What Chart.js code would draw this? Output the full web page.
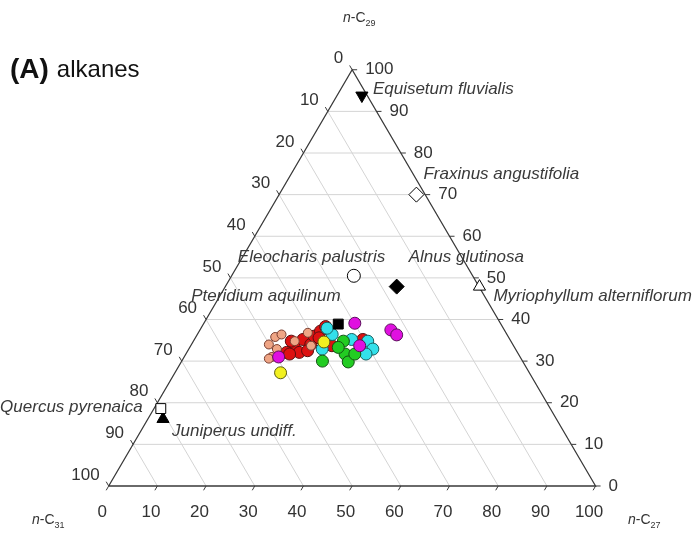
<!DOCTYPE html>
<html>
<head>
<meta charset="utf-8">
<script src="https://cdn.jsdelivr.net/npm/chart.js@4.4.1/dist/chart.umd.min.js"></script>
<style>
  body { margin: 0; background: #fff; }
  #wrap { width: 700px; height: 540px; position: relative; }
</style>
</head>
<body>
<div id="wrap"><canvas id="ternary"></canvas></div>
<script>
// tick values, same on all three sides (%)
const ticks = [0, 10, 20, 30, 40, 50, 60, 70, 80, 90, 100];

// reference plants: n-C27 and n-C29 share in %, n-C31 is the rest
const refNames = ['Equisetum fluvialis', 'Fraxinus angustifolia', 'Alnus glutinosa', 'Myriophyllum alterniflorum',
                  'Eleocharis palustris', 'Pteridium aquilinum', 'Quercus pyrenaica', 'Juniperus undiff.'];
const refC27 = [5.1, 28.2, 35.2, 52.2, 25.1, 27.7, 1.4, 3.1];
const refC29 = [93.8, 70.0, 47.9, 47.9, 50.5, 38.9, 18.6, 16.1];

// samples, one pair of arrays per colour group
const redC27 = [21.5, 22.3, 24.5, 24.2, 24.9, 20.5, 23.1, 20.1, 24.6, 25.4, 34.6, 21.3, 25.4, 29.0];
const redC29 = [33.3, 35.2, 34.0, 36.0, 37.2, 32.1, 32.1, 34.8, 32.5, 38.3, 35.2, 31.7, 35.6, 33.7];
const salmonC27 = [15.9, 18.0, 16.3, 17.3, 17.6, 18.1, 20.8, 24.7, 22.5];
const salmonC29 = [34.0, 31.0, 35.8, 36.4, 30.6, 32.9, 34.8, 33.7, 36.8];
const cyanC27 = [27.7, 25.9, 32.3, 35.8, 37.8, 37.0, 27.4];
const cyanC29 = [36.4, 37.9, 35.2, 34.8, 32.9, 31.7, 32.9];
const greenC27 = [28.9, 30.8, 32.7, 34.3, 34.7, 30.5];
const greenC29 = [30.0, 34.8, 31.7, 29.8, 31.7, 33.3];
const yellowC27 = [21.7, 26.9];
const yellowC29 = [27.2, 34.6];
const magentaC27 = [19.4, 31.0, 34.7, 39.2, 41.0];
const magentaC29 = [31.0, 39.1, 33.7, 37.5, 36.3];

const SQ = Math.sqrt(3) / 2;

// ternary -> cartesian (base 0..100 along x)
function tern(c27, c29) {
    return { x: c27 + c29 / 2, y: c29 * SQ };
}
function pts(c27s, c29s) {
    return c27s.map((v, i) => tern(v, c29s[i]));
}

// marker look of the reference plants
const refStyle = [
    { shape: 'triangle', fill: '#000', rot: 180, r: 7 },
    { shape: 'rectRot', fill: '#fff', rot: 0, r: 7.5 },
    { shape: 'rectRot', fill: '#000', rot: 0, r: 7.5 },
    { shape: 'triangle', fill: '#fff', rot: 0, r: 7 },
    { shape: 'circle', fill: '#fff', rot: 0, r: 6.5 },
    { shape: 'rect', fill: '#000', rot: 0, r: 7 },
    { shape: 'rect', fill: '#fff', rot: 0, r: 7 },
    { shape: 'triangle', fill: '#000', rot: 0, r: 7 }
];
// label offsets from the marker, px
const refLabel = [
    { dx: 11, dy: -6, align: 'left' },
    { dx: 7, dy: -20, align: 'left' },
    { dx: 12, dy: -29, align: 'left' },
    { dx: 14, dy: 10, align: 'left' },
    { dx: -116, dy: -19, align: 'left' },
    { dx: -147, dy: -28, align: 'left' },
    { dx: -18, dy: -1, align: 'right' },
    { dx: 9, dy: 12, align: 'left' }
];

let datasets = [];

// reference plants on top
refNames.forEach((name, i) => {
    let s = refStyle[i];
    datasets.push({
        label: name,
        data: [tern(refC27[i], refC29[i])],
        pointStyle: s.shape,
        pointRotation: s.rot,
        pointRadius: s.r,
        backgroundColor: s.fill,
        borderColor: '#000',
        borderWidth: 1
    });
});

function group(label, c27, c29, fill, edge, r) {
    return {
        label: label,
        data: pts(c27, c29),
        pointRadius: r,
        backgroundColor: fill,
        borderColor: edge,
        borderWidth: 1
    };
}
datasets.push(group('magenta', magentaC27, magentaC29, '#e010e0', '#5a105a', 6));
datasets.push(group('yellow', yellowC27, yellowC29, '#f2f020', '#5a5a10', 6));
datasets.push(group('green', greenC27, greenC29, '#22cc22', '#145214', 6));
datasets.push(group('cyan', cyanC27, cyanC29, '#33e0ea', '#176060', 6));
datasets.push(group('salmon', salmonC27, salmonC29, '#efa585', '#7a3e30', 4.5));
datasets.push(group('red', redC27, redC29, '#dd1111', '#5a0f0f', 6));

// triangle outline
datasets.push({
    label: 'outline',
    data: [tern(0, 0), tern(100, 0), tern(0, 100), tern(0, 0)],
    showLine: true, pointRadius: 0, borderColor: '#3a3a3a', borderWidth: 1.3, fill: false
});

// grid: constant n-C29 (horizontal) and constant n-C31 lines
ticks.slice(1, -1).forEach(t => {
    datasets.push({
        label: 'g29-' + t,
        data: [tern(0, t), tern(100 - t, t)],
        showLine: true, pointRadius: 0, borderColor: '#d4d4d4', borderWidth: 1, fill: false
    });
    datasets.push({
        label: 'g31-' + t,
        data: [tern(100 - t, 0), tern(0, 100 - t)],
        showLine: true, pointRadius: 0, borderColor: '#d4d4d4', borderWidth: 1, fill: false
    });
});

function subText(ctx, x, y, sub) {
    ctx.textAlign = 'left';
    ctx.textBaseline = 'middle';
    ctx.fillStyle = '#333';
    ctx.font = 'italic 14px "Liberation Sans", Arial, sans-serif';
    ctx.fillText('n', x, y);
    x += ctx.measureText('n').width;
    ctx.font = '14px "Liberation Sans", Arial, sans-serif';
    ctx.fillText('-C', x, y);
    x += ctx.measureText('-C').width;
    ctx.font = '9px "Liberation Sans", Arial, sans-serif';
    ctx.fillText(sub, x, y + 6);
}

const ternaryText = {
    id: 'ternaryText',
    afterDraw(chart) {
        const ctx = chart.ctx;
        const sx = chart.scales.x, sy = chart.scales.y;
        const px = p => ({ x: sx.getPixelForValue(p.x), y: sy.getPixelForValue(p.y) });
        ctx.save();

        // tick marks
        ctx.strokeStyle = '#3a3a3a';
        ctx.lineWidth = 1;
        ctx.beginPath();
        ticks.forEach(t => {
            let b = px(tern(t, 0));
            ctx.moveTo(b.x, b.y); ctx.lineTo(b.x - 2.5, b.y + 4.3);
            let r = px(tern(100 - t, t));
            ctx.moveTo(r.x, r.y); ctx.lineTo(r.x + 5, r.y);
            let l = px(tern(0, 100 - t));
            ctx.moveTo(l.x, l.y); ctx.lineTo(l.x - 2.5, l.y - 4.3);
        });
        ctx.stroke();

        // tick labels
        ctx.fillStyle = '#333';
        ctx.font = '17px "Liberation Sans", Arial, sans-serif';
        ctx.textBaseline = 'middle';
        ticks.forEach(t => {
            let b = px(tern(t, 0));
            ctx.textAlign = 'center';
            ctx.fillText(String(t), b.x - 6.5, b.y + 26);
            let r = px(tern(100 - t, t));
            ctx.textAlign = 'left';
            ctx.fillText(String(t), r.x + 13, r.y);
            let l = px(tern(0, 100 - t));
            ctx.textAlign = 'right';
            ctx.fillText(String(t), l.x - 9, l.y - 11);
        });

        // axis titles
        subText(ctx, 343, 18, '29');
        subText(ctx, 32, 520, '31');
        subText(ctx, 628, 520, '27');

        // plant names
        ctx.font = 'italic 17px "Liberation Sans", Arial, sans-serif';
        ctx.fillStyle = '#3a3a3a';
        refNames.forEach((name, i) => {
            let p = px(tern(refC27[i], refC29[i]));
            ctx.textAlign = refLabel[i].align;
            ctx.fillText(name, p.x + refLabel[i].dx, p.y + refLabel[i].dy);
        });

        // panel title
        ctx.fillStyle = '#111';
        ctx.textAlign = 'left';
        ctx.font = 'bold 28px "Liberation Sans", Arial, sans-serif';
        ctx.fillText('(A)', 10, 70);
        let w = ctx.measureText('(A)').width;
        ctx.font = '24px "Liberation Sans", Arial, sans-serif';
        ctx.fillText('alkanes', 10 + w + 8, 70);

        ctx.restore();
    }
};

new Chart(document.getElementById('ternary'), {
    type: 'scatter',
    data: { datasets: datasets },
    options: {
        responsive: true,
        maintainAspectRatio: false,
        animation: false,
        events: [],
        layout: { padding: 0 },
        plugins: {
            legend: { display: false },
            tooltip: { enabled: false }
        },
        scales: {
            x: { type: 'linear', min: -20.58, max: 119.70, display: false },
            y: { type: 'linear', min: -9.47, max: 99.35, display: false }
        }
    },
    plugins: [ternaryText]
});
</script>
</body>
</html>
